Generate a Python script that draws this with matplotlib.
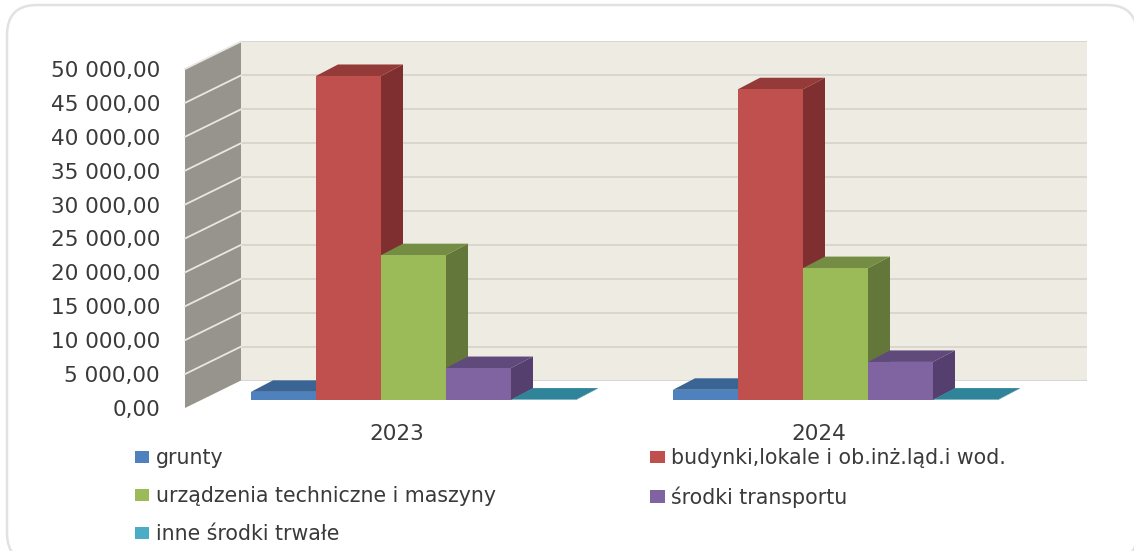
import matplotlib
matplotlib.use("Agg")
import matplotlib.pyplot as plt
from matplotlib.patches import FancyBboxPatch

years = ["2023", "2024"]
series_names = ["grunty", "budynki,lokale i ob.inż.ląd.i wod.",
                "urządzenia techniczne i maszyny", "środki transportu",
                "inne środki trwałe"]
grunty = [1200, 1500]
budynki = [47650, 45700]
urzadzenia = [21300, 19400]
transport = [4700, 5600]
inne = [60, 60]
value_ticks = list(range(0, 50001, 5000))
tick_labels = ["0,00", "5 000,00", "10 000,00", "15 000,00", "20 000,00", "25 000,00",
               "30 000,00", "35 000,00", "40 000,00", "45 000,00", "50 000,00"]

series = [grunty, budynki, urzadzenia, transport, inne]
front = ["#4F81BD", "#C0504D", "#9BBB59", "#8064A2", "#4BACC6"]
top = ["#3A6494", "#943A38", "#748C43", "#604A7B", "#2F8499"]
side = ["#325A88", "#7F2F2F", "#64773A", "#553F6E", "#2C7A8E"]
TXT = "#3A3A3A"
FS = 15.6

W, H = 1134, 551
fig = plt.figure(figsize=(W / 100, H / 100), dpi=100, facecolor="white")
plt.rcParams["font.family"] = "DejaVu Sans"

def rect(l, t, r, b):
    return [l / W, 1 - b / H, (r - l) / W, (b - t) / H]

# rounded panel
bg = fig.add_axes([0, 0, 1, 1], zorder=0)
bg.set_xlim(0, W); bg.set_ylim(H, 0); bg.axis("off")
bg.add_patch(FancyBboxPatch((7, 5), 1130, 558,
                            boxstyle="round,pad=0,rounding_size=30",
                            fc="white", ec="#E2E2E2", lw=1.8))

# back wall
back = fig.add_axes(rect(241, 41, 1087, 381), zorder=1, facecolor="#EEEBE2")
back.set_ylim(0, 50000)
back.set_xticks([])
back.set_yticks(value_ticks)
back.tick_params(left=False, labelleft=False)
back.grid(axis="y", color="#D6D4CE", lw=1.3)
back.set_axisbelow(True)
for s in back.spines.values():
    s.set_visible(False)

# left wall (carries the value axis)
wall = fig.add_axes(rect(185, 69, 241, 408), zorder=2)
wall.patch.set_visible(False)
wall.set_xlim(0, 1)
wall.set_ylim(0, 50000)
wall.set_xticks([])
wall.set_yticks(value_ticks)
wall.set_yticklabels(tick_labels, fontsize=FS, color=TXT)
wall.tick_params(axis="y", length=0, pad=18)
for s in wall.spines.values():
    s.set_visible(False)
DEPTH = 27.5 / (339 / 50000)
wall.fill([0, 1, 1, 0], [0, DEPTH, 50000 + DEPTH, 50000], color="#96948D", clip_on=False, lw=0)
for v in value_ticks[1:]:
    wall.plot([0, 1], [v, v + DEPTH], color="#E9E7E1", lw=1.3, clip_on=False)

# bars
PX_PER_UNIT = 65
CENTER = 413.5
ax = fig.add_axes(rect(185, 60, 1087, 400), zorder=3)
ax.patch.set_visible(False)
ax.set_xlim((185 - CENTER) / PX_PER_UNIT, (1087 - CENTER) / PX_PER_UNIT)
ax.set_ylim(0, 50000)
for s in ax.spines.values():
    s.set_visible(False)
ax.set_yticks([])
GROUP_GAP = 422 / PX_PER_UNIT
groups = [i * GROUP_GAP for i in range(len(years))]
DX = 22 / PX_PER_UNIT
DY = 11.5 / (340 / 50000)
handles = []
for gi, g in enumerate(groups):
    for k, vals in enumerate(series):
        val = vals[gi]
        l = g + (k - 2.5)
        r = l + 1
        ax.fill([r, r + DX, r + DX, r], [0, DY, val + DY, val], color=side[k], lw=0, clip_on=False, zorder=2 + k)
        ax.fill([l, l + DX, r + DX, r], [val, val + DY, val + DY, val], color=top[k], lw=0, clip_on=False, zorder=2 + k)
        b = ax.bar(l + 0.5, val, width=1, color=front[k], lw=0, clip_on=False, zorder=2 + k, label=series_names[k])
        if gi == 0:
            handles.append(b)

LABEL_SHIFT = 16.5 / PX_PER_UNIT
ax.set_xticks([g - LABEL_SHIFT for g in groups])
ax.set_xticklabels(years, fontsize=FS, color=TXT)
ax.tick_params(axis="x", length=0, pad=17)

order = [0, 2, 4, 1, 3]
leg = ax.legend([handles[i] for i in order], [series_names[i] for i in order],
                ncol=2, loc="upper left", bbox_to_anchor=(135 / W, 1 - 448 / H),
                bbox_transform=fig.transFigure, frameon=False, fontsize=14.8,
                handlelength=0.7, handleheight=0.55, handletextpad=0.32,
                labelspacing=0.88, columnspacing=7.5, borderpad=0, borderaxespad=0,
                labelcolor=TXT)

fig.savefig("out.png", dpi=100, facecolor="white")
